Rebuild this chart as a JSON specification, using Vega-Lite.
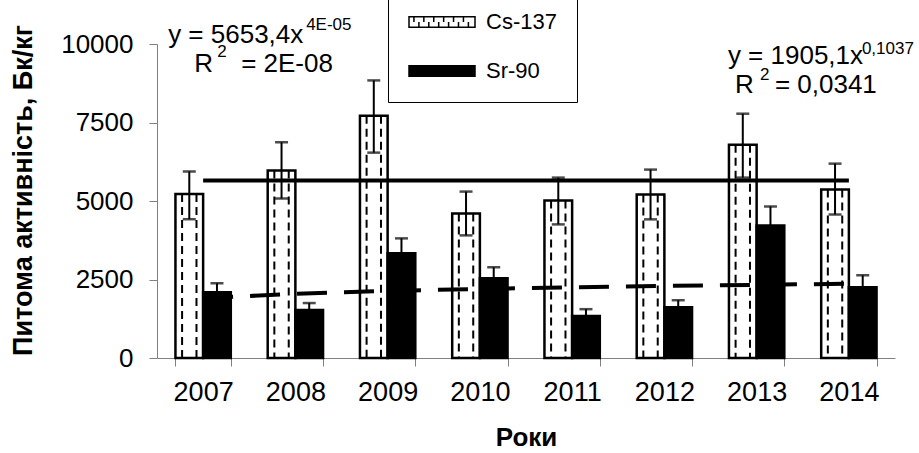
{
  "$schema": "https://vega.github.io/schema/vega-lite/v6.json",
  "width": 738,
  "height": 314,
  "autosize": {"type": "none"},
  "padding": {"left": 157, "top": 44, "right": 24, "bottom": 95},
  "background": "white",
  "config": {
    "view": {"stroke": null},
    "font": "Liberation Sans",
    "axis": {
      "grid": false,
      "domainColor": "#808080",
      "tickColor": "#808080",
      "tickSize": 8,
      "labelColor": "black",
      "labelFont": "Liberation Sans",
      "labelFontSize": 26,
      "titleFont": "Liberation Sans",
      "titleColor": "black",
      "titleFontWeight": "bold"
    },
    "text": {"font": "Liberation Sans", "color": "black"}
  },
  "datasets": {
    "bars": [
      {"year": "2007", "series": "Cs-137", "value": 5220, "lo": 4420, "hi": 5940},
      {"year": "2007", "series": "Sr-90", "value": 2095, "lo": 1810, "hi": 2380},
      {"year": "2008", "series": "Cs-137", "value": 5970, "lo": 5080, "hi": 6870},
      {"year": "2008", "series": "Sr-90", "value": 1525, "lo": 1300, "hi": 1750},
      {"year": "2009", "series": "Cs-137", "value": 7715, "lo": 6540, "hi": 8840},
      {"year": "2009", "series": "Sr-90", "value": 3335, "lo": 2860, "hi": 3810},
      {"year": "2010", "series": "Cs-137", "value": 4600, "lo": 3905, "hi": 5300},
      {"year": "2010", "series": "Sr-90", "value": 2540, "lo": 2190, "hi": 2890},
      {"year": "2011", "series": "Cs-137", "value": 5015, "lo": 4255, "hi": 5745},
      {"year": "2011", "series": "Sr-90", "value": 1335, "lo": 1110, "hi": 1555},
      {"year": "2012", "series": "Cs-137", "value": 5205, "lo": 4415, "hi": 6000},
      {"year": "2012", "series": "Sr-90", "value": 1620, "lo": 1400, "hi": 1840},
      {"year": "2013", "series": "Cs-137", "value": 6795, "lo": 5745, "hi": 7780},
      {"year": "2013", "series": "Sr-90", "value": 4220, "lo": 3620, "hi": 4825},
      {"year": "2014", "series": "Cs-137", "value": 5365, "lo": 4570, "hi": 6190},
      {"year": "2014", "series": "Sr-90", "value": 2255, "lo": 1875, "hi": 2635}
    ],
    "trend": [
      {"year": "2007", "cs": 5653.4, "sr": 1905},
      {"year": "2008", "cs": 5653.6, "sr": 2047},
      {"year": "2009", "cs": 5653.6, "sr": 2135},
      {"year": "2010", "cs": 5653.7, "sr": 2200},
      {"year": "2011", "cs": 5653.8, "sr": 2251},
      {"year": "2012", "cs": 5653.8, "sr": 2294},
      {"year": "2013", "cs": 5653.8, "sr": 2331},
      {"year": "2014", "cs": 5653.9, "sr": 2364}
    ]
  },
  "layer": [
    {
      "data": {"name": "bars"},
      "mark": {"type": "bar", "stroke": "black", "strokeWidth": 2.5},
      "encoding": {
        "x": {
          "field": "year", "type": "nominal", "title": "Роки",
          "scale": {"paddingInner": 0.4, "paddingOuter": 0.2},
          "axis": {"labelAngle": 0, "tickBand": "extent", "labelPadding": 13, "labelFontSize": 27, "titleFontSize": 26, "titlePadding": 19}
        },
        "xOffset": {"field": "series", "type": "nominal", "scale": {"domain": ["Cs-137", "Sr-90"], "paddingInner": 0, "paddingOuter": 0}},
        "y": {
          "field": "value", "type": "quantitative", "title": "Питома активність, Бк/кг",
          "scale": {"domain": [0, 10000], "nice": false},
          "axis": {"values": [0, 2500, 5000, 7500, 10000], "format": "d", "labelPadding": 16, "titleFontSize": 27, "titleX": -134, "titleY": 146, "titleAngle": 270, "titleAlign": "center", "titleBaseline": "middle"}
        },
        "fill": {
          "field": "series", "type": "nominal",
          "scale": {"domain": ["Cs-137", "Sr-90"], "range": ["white", "black"]},
          "legend": {
            "title": null, "orient": "none", "legendX": 231, "legendY": -76,
            "padding": 20, "strokeColor": "black", "fillColor": "white",
            "symbolType": "M-1,-0.16h2v0.32h-2z", "symbolSize": 4356,
            "symbolStrokeColor": "black", "symbolStrokeWidth": 1.5,
            "labelFontSize": 22, "labelOffset": 10, "labelColor": "black", "rowPadding": 4,
            "encode": {"symbols": {"update": {"shape": {"signal": "datum.value === 'Cs-137' ? 'M-1,-0.16h2v0.32h-2z M-0.85,-0.16v0.16 M-0.7,0.16v-0.16 M-0.55,-0.16v0.16 M-0.4,0.16v-0.16 M-0.25,-0.16v0.16 M-0.1,0.16v-0.16 M0.05,-0.16v0.16 M0.2,0.16v-0.16 M0.35,-0.16v0.16 M0.5,0.16v-0.16 M0.65,-0.16v0.16 M0.8,0.16v-0.16' : 'M-1,-0.16h2v0.32h-2z'"}}}}
          }
        }
      }
    },
    {
      "data": {"name": "bars"},
      "transform": [{"filter": "datum.series === 'Cs-137'"}],
      "mark": {"type": "rule", "stroke": "black", "strokeWidth": 2, "strokeDash": [8, 5]},
      "encoding": {
        "x": {"field": "year", "type": "nominal", "bandPosition": 0.12, "title": "Роки"},
        "y": {"field": "value", "type": "quantitative", "title": "Питома активність, Бк/кг"},
        "y2": {"datum": 0}
      }
    },
    {
      "data": {"name": "bars"},
      "transform": [{"filter": "datum.series === 'Cs-137'"}],
      "mark": {"type": "rule", "stroke": "black", "strokeWidth": 2, "strokeDash": [8, 5]},
      "encoding": {
        "x": {"field": "year", "type": "nominal", "bandPosition": 0.38, "title": "Роки"},
        "y": {"field": "value", "type": "quantitative", "title": "Питома активність, Бк/кг"},
        "y2": {"datum": 0}
      }
    },
    {
      "data": {"name": "trend"},
      "mark": {"type": "line", "stroke": "black", "strokeWidth": 4},
      "encoding": {
        "x": {"field": "year", "type": "nominal", "title": "Роки"},
        "y": {"field": "cs", "type": "quantitative", "title": "Питома активність, Бк/кг"}
      }
    },
    {
      "data": {"name": "trend"},
      "mark": {"type": "line", "stroke": "black", "strokeWidth": 4, "strokeDash": [30, 17]},
      "encoding": {
        "x": {"field": "year", "type": "nominal", "title": "Роки"},
        "y": {"field": "sr", "type": "quantitative", "title": "Питома активність, Бк/кг"}
      }
    },
    {
      "data": {"name": "bars"},
      "mark": {"type": "rule", "stroke": "black", "strokeWidth": 2},
      "encoding": {
        "x": {"field": "year", "type": "nominal", "title": "Роки"},
        "xOffset": {"field": "series", "type": "nominal"},
        "y": {"field": "lo", "type": "quantitative", "title": "Питома активність, Бк/кг"},
        "y2": {"field": "hi"}
      }
    },
    {
      "data": {"name": "bars"},
      "mark": {"type": "tick", "color": "black", "thickness": 2.5, "size": 13, "orient": "horizontal"},
      "encoding": {
        "x": {"field": "year", "type": "nominal", "title": "Роки"},
        "xOffset": {"field": "series", "type": "nominal"},
        "y": {"field": "hi", "type": "quantitative", "title": "Питома активність, Бк/кг"}
      }
    },
    {
      "data": {"name": "bars"},
      "mark": {"type": "tick", "color": "black", "thickness": 2.5, "size": 13, "orient": "horizontal"},
      "encoding": {
        "x": {"field": "year", "type": "nominal", "title": "Роки"},
        "xOffset": {"field": "series", "type": "nominal"},
        "y": {"field": "lo", "type": "quantitative", "title": "Питома активність, Бк/кг"}
      }
    },
    {
      "data": {"values": [{}]},
      "mark": {"type": "text", "text": "y = 5653,4x", "fontSize": 26, "align": "left", "baseline": "alphabetic", "dx": -35},
      "encoding": {"x": {"datum": "2007"}, "y": {"datum": 10030}}
    },
    {
      "data": {"values": [{}]},
      "mark": {"type": "text", "text": "4E-05", "fontSize": 17, "align": "left", "baseline": "alphabetic", "dx": 103},
      "encoding": {"x": {"datum": "2007"}, "y": {"datum": 10450}}
    },
    {
      "data": {"values": [{}]},
      "mark": {"type": "text", "text": "R", "fontSize": 26, "align": "left", "baseline": "alphabetic", "dx": -9},
      "encoding": {"x": {"datum": "2007"}, "y": {"datum": 9108}}
    },
    {
      "data": {"values": [{}]},
      "mark": {"type": "text", "text": "2", "fontSize": 17, "align": "left", "baseline": "alphabetic", "dx": 14},
      "encoding": {"x": {"datum": "2007"}, "y": {"datum": 9600}}
    },
    {
      "data": {"values": [{}]},
      "mark": {"type": "text", "text": "= 2E-08", "fontSize": 26, "align": "left", "baseline": "alphabetic", "dx": 38},
      "encoding": {"x": {"datum": "2007"}, "y": {"datum": 9108}}
    },
    {
      "data": {"values": [{}]},
      "mark": {"type": "text", "text": "y = 1905,1x", "fontSize": 26, "align": "left", "baseline": "alphabetic", "dx": -121},
      "encoding": {"x": {"datum": "2014"}, "y": {"datum": 9363}}
    },
    {
      "data": {"values": [{}]},
      "mark": {"type": "text", "text": "0,1037", "fontSize": 17, "align": "left", "baseline": "alphabetic", "dx": 13},
      "encoding": {"x": {"datum": "2014"}, "y": {"datum": 9690}}
    },
    {
      "data": {"values": [{}]},
      "mark": {"type": "text", "text": "R", "fontSize": 26, "align": "left", "baseline": "alphabetic", "dx": -114},
      "encoding": {"x": {"datum": "2014"}, "y": {"datum": 8439}}
    },
    {
      "data": {"values": [{}]},
      "mark": {"type": "text", "text": "2", "fontSize": 17, "align": "left", "baseline": "alphabetic", "dx": -89},
      "encoding": {"x": {"datum": "2014"}, "y": {"datum": 8840}}
    },
    {
      "data": {"values": [{}]},
      "mark": {"type": "text", "text": "= 0,0341", "fontSize": 26, "align": "left", "baseline": "alphabetic", "dx": -74},
      "encoding": {"x": {"datum": "2014"}, "y": {"datum": 8439}}
    }
  ]
}
